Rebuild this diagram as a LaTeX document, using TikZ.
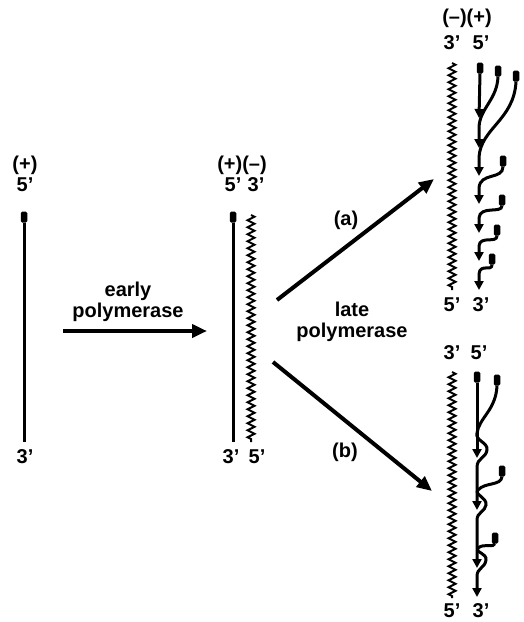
\documentclass[tikz,border=0pt]{standalone}
\usepackage{fontspec}
\setmainfont{Liberation Sans}
\usetikzlibrary{arrows.meta, positioning, decorations.pathmorphing}

\begin{document}
\begin{tikzpicture}[x=1pt, y=-1pt,
        lbl/.style={inner sep=0pt, font=\fontsize{20}{21}\bfseries\selectfont, align=center},
        strand/.style={line width=3pt},
        newstrand/.style={line width=3pt, -{Triangle[length=9pt, width=9pt]}},
        cap5/.style={rectangle, fill=black, rounded corners=1.5pt, minimum width=6.5pt, minimum height=11pt, inner sep=0pt},
        wavy/.style={line width=2pt, decorate, decoration={zigzag, amplitude=3.5pt, segment length=7pt}},
        bigarrow/.style={line width=4pt, -{Triangle[length=15pt, width=13pt]}}]
    \useasboundingbox (0,0) rectangle (523,622);

    % single (+) strand
    \node (pl) [lbl] at (25,165) {(+)};
    \node (pl5) [lbl] at (25,185) {5'};
    \node (pl3) [lbl] at (25,457) {3'};
    \node (c0) [cap5] at (24,217) {};
    \coordinate (e0) at (24,442);
    \draw[strand] (c0.south) -- (e0);

    \node (early) [lbl] at (128,302) {early\\polymerase};
    \coordinate (ea) at (63,331);
    \coordinate (eb) at (207,331);
    \draw[bigarrow] (ea) -- (eb);

    % duplex
    \node (dpm) [lbl] at (242,165) {(+)(--)};
    \node (d5) [lbl] at (233,185) {5'};
    \node (d3) [lbl] at (256,185) {3'};
    \node (db3) [lbl] at (231,457) {3'};
    \node (db5) [lbl] at (257,457) {5'};
    \node (c1) [cap5] at (233,217) {};
    \coordinate (e1) at (233,442);
    \draw[strand] (c1.south) -- (e1);
    \coordinate (m1) at (251,215);
    \coordinate (m2) at (251,442);
    \draw[wavy] (m1) -- (m2);

    \coordinate (ua) at (277,300);
    \coordinate (ub) at (434,179);
    \coordinate (la) at (273,362);
    \coordinate (lb) at (432,491);
    \draw[bigarrow] (ua) -- (ub);
    \draw[bigarrow] (la) -- (lb);
    \node (pa) [lbl] at (346,220) {(a)};
    \node (late) [lbl] at (352,322) {late\\polymerase};
    \node (pb) [lbl] at (345,452) {(b)};

    % (a) products
    \node (amp) [lbl] at (467,18) {(--)(+)};
    \node (a3) [lbl] at (452,43) {3'};
    \node (a5) [lbl] at (481,43) {5'};
    \node (ab5) [lbl] at (452,305) {5'};
    \node (ab3) [lbl] at (481,305) {3'};
    \coordinate (am1) at (452,63);
    \coordinate (am2) at (452,290);
    \draw[wavy] (am1) -- (am2);

    \node (a1) [cap5] at (480,68) {};
    \node (a2) [cap5] at (498,71) {};
    \node (a3c) [cap5] at (516,76) {};
    \node (a4) [cap5] at (503,161) {};
    \node (a5c) [cap5] at (502,200) {};
    \node (a6) [cap5] at (497,230) {};
    \node (a7) [cap5] at (492,259) {};
    \draw[newstrand] (a1.south) -- (479,118);
    \draw[newstrand] (a2.south) .. controls (497,100) and (480,108) .. (479,127) -- (479,148);
    \draw[newstrand] (a3c.south) .. controls (514,120) and (481,128) .. (479,157) -- (479,176);
    \draw[newstrand] (a4.south) .. controls (503,180) and (480,172) .. (479,188) -- (479,204);
    \draw[newstrand] (a5c.south) .. controls (502,214) and (480,205) .. (479,218) -- (479,233);
    \draw[newstrand] (a6.south) .. controls (497,244) and (480,235) .. (479,246) -- (479,261);
    \draw[newstrand] (a7.south) .. controls (492,272) and (480,263) .. (479,274) -- (479,290);

    % (b) products
    \node (b3) [lbl] at (452,353) {3'};
    \node (b5) [lbl] at (479,353) {5'};
    \node (bb5) [lbl] at (452,611) {5'};
    \node (bb3) [lbl] at (481,611) {3'};
    \coordinate (bm1) at (452,372);
    \coordinate (bm2) at (452,598);
    \draw[wavy] (bm1) -- (bm2);

    \node (b1) [cap5] at (477,377) {};
    \node (b2) [cap5] at (497,380) {};
    \node (b3c) [cap5] at (502,471) {};
    \node (b4) [cap5] at (495,538) {};
    \draw[newstrand] (b1.south) -- (477,458);
    \draw[newstrand] (b2.south) .. controls (496,410) and (479,418) .. (477,433)
        .. controls (475,441) and (488,442) .. (487,450)
        .. controls (486,458) and (477,458) .. (477,467) -- (477,510);
    \draw[newstrand] (b3c.south) .. controls (501,486) and (485,482) .. (478,490)
        .. controls (474,495) and (487,497) .. (486,505)
        .. controls (485,512) and (477,512) .. (477,520) -- (477,568);
    \draw[newstrand] (b4.south) .. controls (494,548) and (484,543) .. (478,548)
        .. controls (474,552) and (487,553) .. (486,560)
        .. controls (485,568) and (477,568) .. (477,576) -- (477,597);
\end{tikzpicture}
\end{document}
